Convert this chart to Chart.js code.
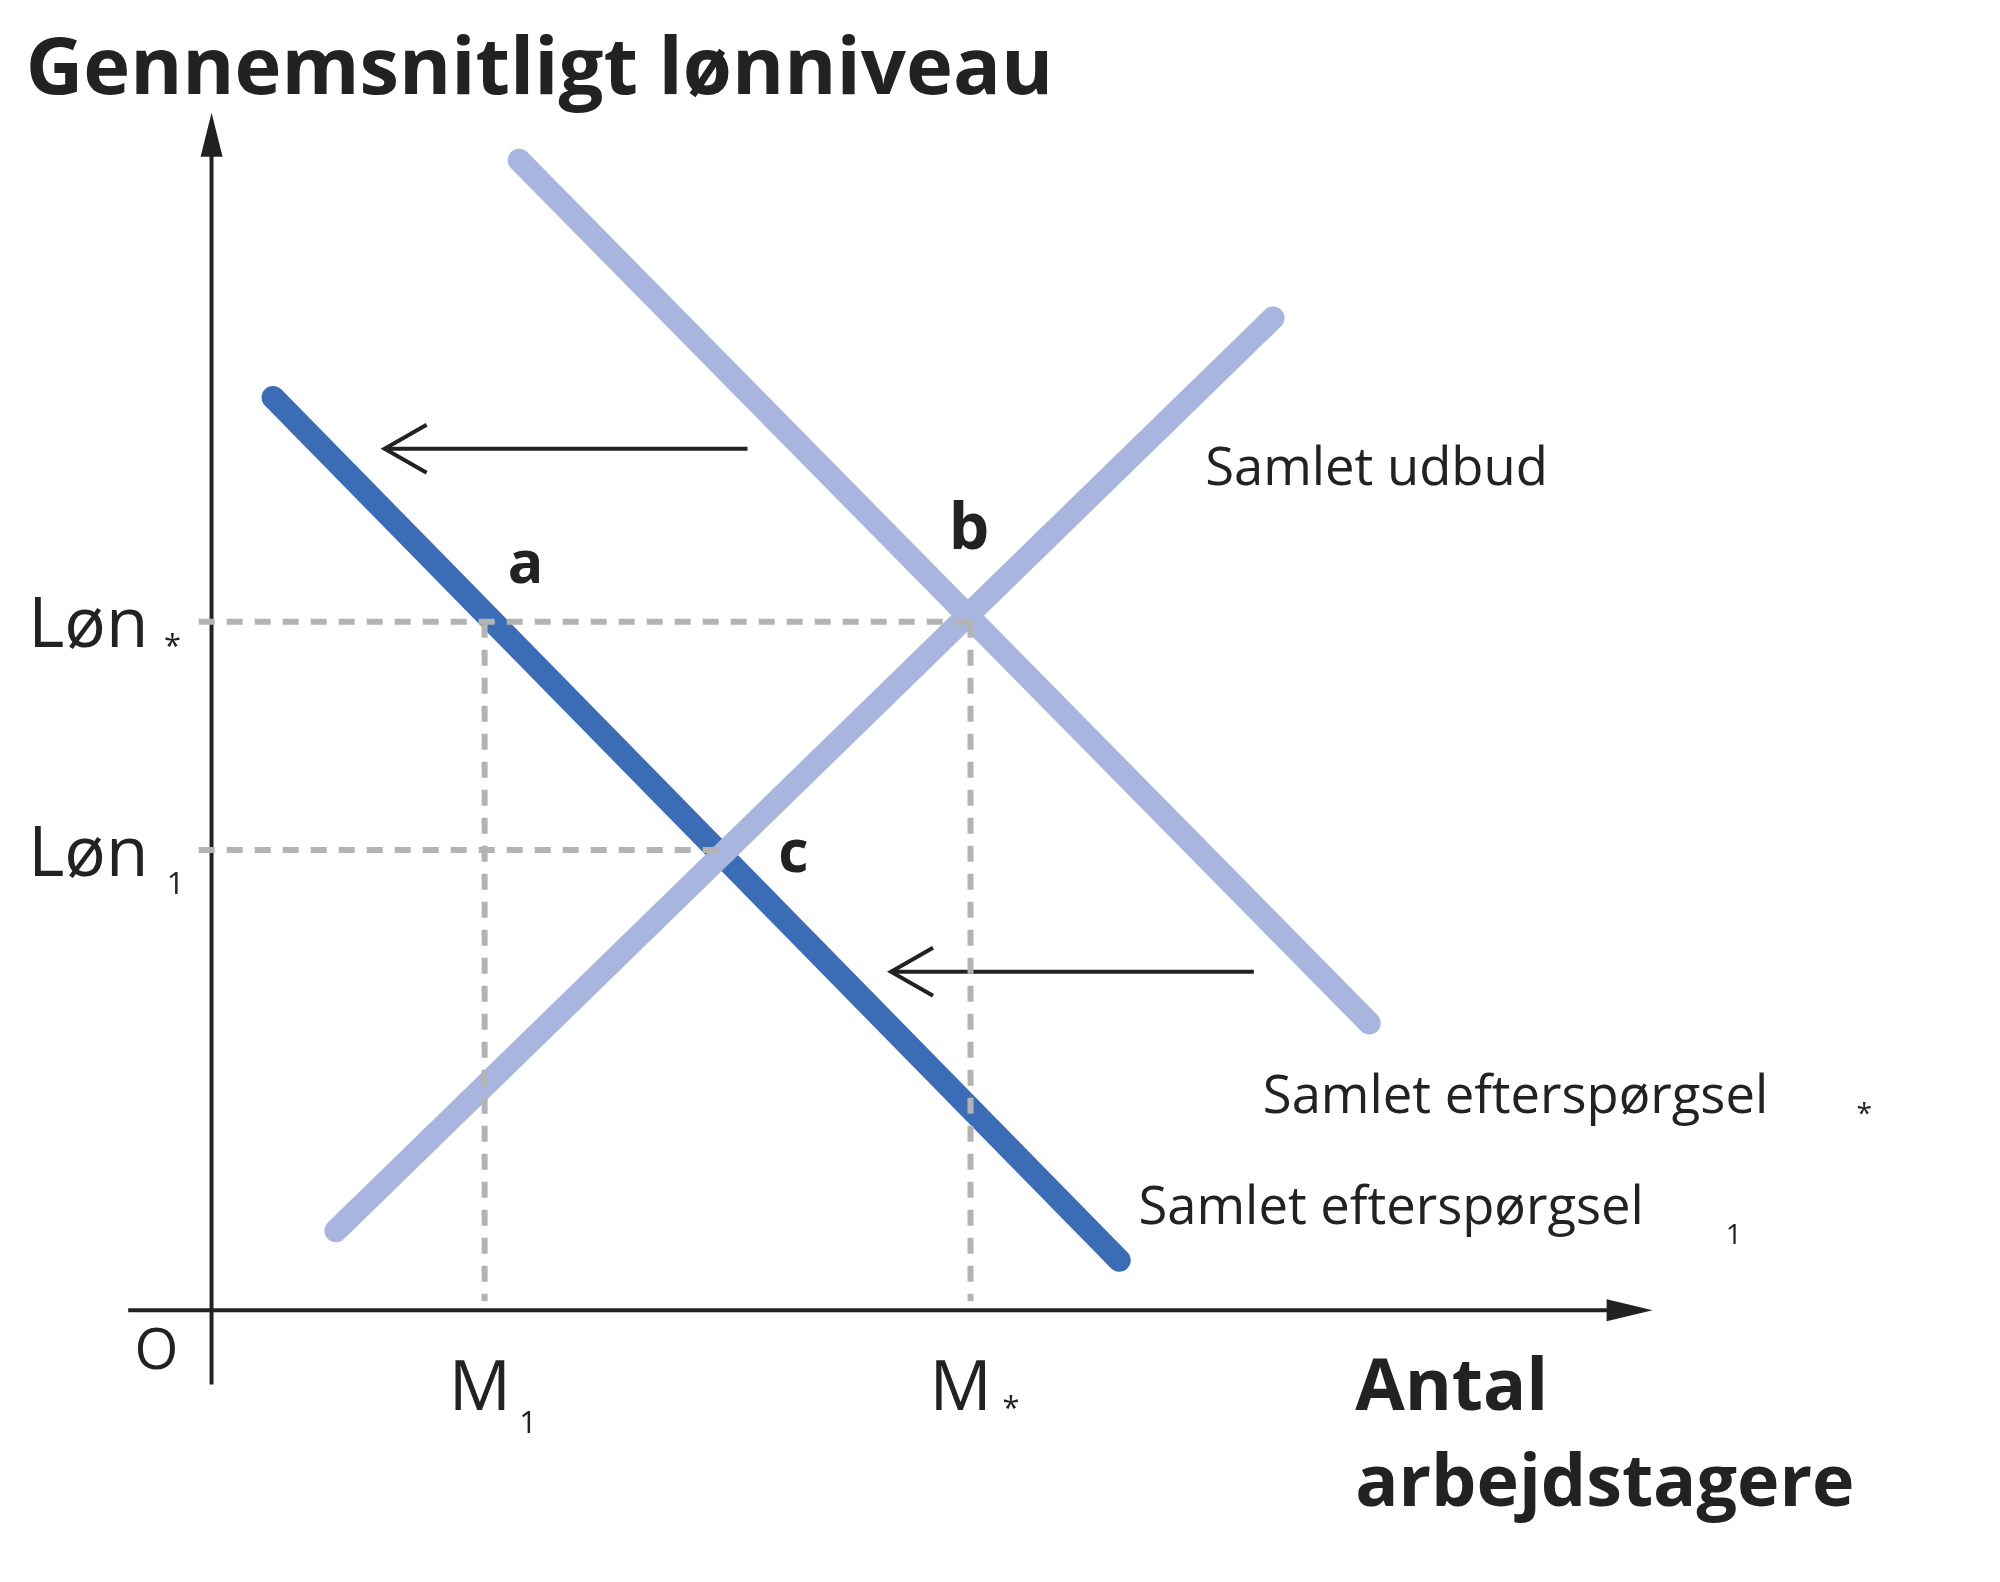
<!DOCTYPE html>
<html><head><meta charset="utf-8">
<script src="https://cdn.jsdelivr.net/npm/chart.js@4"></script>
<style>html,body{margin:0;padding:0;background:#fff}#w{width:2000px;height:1582px}</style>
</head><body><div id="w"><canvas id="c"></canvas></div>
<script>
// values in chart units (origin at axes crossing)
const supply = [{x:0.97,y:0.62},{x:8.28,y:7.74}];
const demandStar = [{x:2.40,y:8.97},{x:9.03,y:2.24}];
const demand1 = [{x:0.48,y:7.12},{x:7.08,y:0.39}];
const lonStar = 5.37, lon1 = 3.59, m1 = 2.13, mStar = 5.92;
const arrows = [[{x:4.18,y:6.72},{x:1.35,y:6.72}],[{x:8.13,y:2.64},{x:5.30,y:2.64}]];
const yAxisLine = [{x:0,y:-0.58},{x:0,y:9.2}];
const xAxisLine = [{x:-0.65,y:0},{x:11.1,y:0}];
const grey='#b3b3b3', light='#a8b6df', dark='#3a6db6';
const dash = (pts)=>({data:pts,borderColor:grey,borderWidth:6,borderDash:[16,12],pointRadius:0});
const K = 2000/1560;
const textPlugin={id:'t',afterDatasetsDraw(ch){
 const c=ch.ctx,xs=ch.scales.x,ys=ch.scales.y,X=v=>xs.getPixelForValue(v),Y=v=>ys.getPixelForValue(v);
 c.save();c.strokeStyle='#222';c.fillStyle='#222';c.lineWidth=4;
 // axis arrowheads
 c.beginPath();c.moveTo(X(0),Y(9.2)-18);c.lineTo(X(0)-11,Y(9.2)+26);c.lineTo(X(0)+11,Y(9.2)+26);c.closePath();c.fill();
 c.beginPath();c.moveTo(X(11.1)+18,Y(0));c.lineTo(X(11.1)-28,Y(0)-11);c.lineTo(X(11.1)-28,Y(0)+11);c.closePath();c.fill();
 // open arrowheads
 c.lineWidth=4;
 arrows.forEach(a=>{const x=X(a[1].x),y=Y(a[1].y);c.beginPath();c.moveTo(x+42,y-24);c.lineTo(x,y);c.lineTo(x+42,y+24);c.stroke();});
 const t=(s,x,y,f,al)=>{c.font=f;c.textAlign=al||'left';c.textBaseline='alphabetic';c.fillText(s,x*K,y*K);};
 const F='"Open Sans", Lato, sans-serif';
 t('Gennemsnitligt lønniveau',20,73,`bold ${62*K}px ${F}`);
 t('Antal',1057,1100,`bold ${56*K}px ${F}`);
 t('arbejdstagere',1057,1175,`bold ${56*K}px ${F}`);
 t('Samlet udbud',940,378,`${41*K}px ${F}`);
 t('Samlet efterspørgsel',985,868,`${41*K}px ${F}`);t('*',1448,876,`${22*K}px ${F}`);
 t('Samlet efterspørgsel',888,955,`${41*K}px ${F}`);t('1',1346,970,`${22*K}px ${F}`);
 t('Løn',22,505,`${54*K}px ${F}`);t('*',128,512,`${24*K}px ${F}`);
 t('Løn',22,683,`${54*K}px ${F}`);t('1',130,697,`${24*K}px ${F}`);
 t('M',350,1100,`${54*K}px ${F}`);t('1',405,1118,`${24*K}px ${F}`);
 t('M',725,1100,`${54*K}px ${F}`);t('*',782,1106,`${24*K}px ${F}`);
 t('O',105,1068,`${44*K}px ${F}`);
 t('a',396,455,`bold ${46*K}px ${F}`);t('b',740,428,`bold ${50*K}px ${F}`);t('c',607,680,`bold ${46*K}px ${F}`);
 c.restore();}};
new Chart(document.getElementById('c'),{type:'line',
 data:{datasets:[
  dash([{x:-0.1,y:lonStar},{x:mStar,y:lonStar}]),
  dash([{x:-0.1,y:lon1},{x:4.0,y:lon1}]),
  dash([{x:m1,y:lonStar},{x:m1,y:0.07}]),
  dash([{x:mStar,y:lonStar},{x:mStar,y:0.07}]),
  {data:yAxisLine,borderColor:'#222',borderWidth:4,pointRadius:0},
  {data:xAxisLine,borderColor:'#222',borderWidth:4,pointRadius:0},
  {data:arrows[0],borderColor:'#222',borderWidth:4,pointRadius:0},
  {data:arrows[1],borderColor:'#222',borderWidth:4,pointRadius:0},
  {data:supply,borderColor:light,borderWidth:23,borderCapStyle:'round',pointRadius:0},
  {data:demandStar,borderColor:light,borderWidth:23,borderCapStyle:'round',pointRadius:0},
  {data:demand1,borderColor:dark,borderWidth:23,borderCapStyle:'round',pointRadius:0}
 ]},
 options:{responsive:true,maintainAspectRatio:false,animation:false,layout:{padding:0},
  plugins:{legend:{display:false},tooltip:{enabled:false}},
  scales:{x:{type:'linear',min:-1.65,max:13.95,display:false},y:{type:'linear',min:-2.12,max:10.22,display:false}}},
 plugins:[textPlugin]});
</script></body></html>
